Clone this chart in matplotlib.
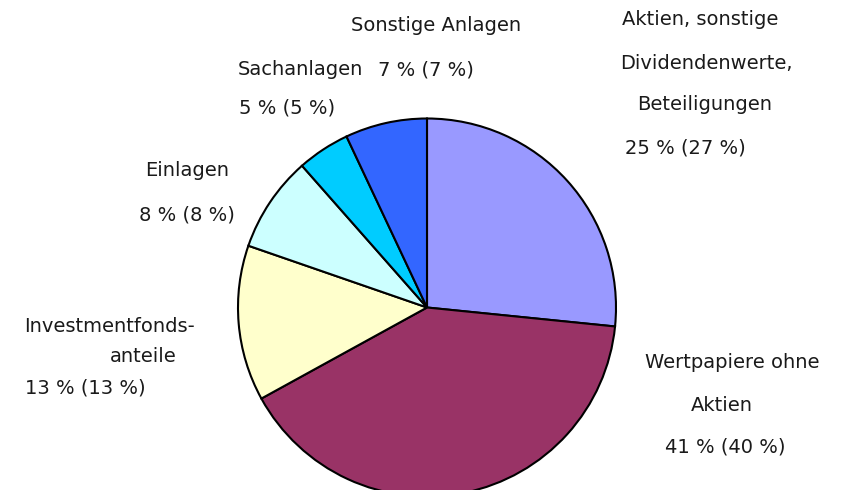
import matplotlib
matplotlib.use("Agg")
import matplotlib.pyplot as plt

categories = ["Aktien, sonstige Dividendenwerte, Beteiligungen",
              "Wertpapiere ohne Aktien",
              "Investmentfonds-anteile",
              "Einlagen",
              "Sachanlagen",
              "Sonstige Anlagen"]
values = [26.6, 40.4, 13.3, 8.2, 4.5, 7.0]
label_lines = [
    ["Aktien, sonstige", "Dividendenwerte,", "Beteiligungen", "25 % (27 %)"],
    ["Wertpapiere ohne", "Aktien", "41 % (40 %)"],
    ["Investmentfonds-", "anteile", "13 % (13 %)"],
    ["Einlagen", "8 % (8 %)"],
    ["Sachanlagen", "5 % (5 %)"],
    ["Sonstige Anlagen", "7 % (7 %)"],
]
colors = ["#9999FF", "#993366", "#FFFFCC", "#CCFFFF", "#00CCFF", "#3366FF"]

# layout (pixel positions of each text line, top-down y)
line_pos = [
    [(700, 20), (706, 64), (705, 105), (685, 148)],
    [(732, 362), (722, 405), (725, 447)],
    [(110, 327), (143, 357), (85, 388)],
    [(187, 170), (187, 215)],
    [(300, 70), (287, 108)],
    [(436, 26), (426, 70)],
]

W, H = 841, 490
fig = plt.figure(figsize=(W / 100, H / 100), dpi=100)
ax = fig.add_axes([0, 0, 1, 1])
ax.pie(values, colors=colors, startangle=90, counterclock=False,
       center=(427, H - 307.5), radius=189,
       wedgeprops=dict(edgecolor="black", linewidth=1.5))
ax.set_xlim(0, W)
ax.set_ylim(0, H)
ax.set_aspect("equal")
ax.axis("off")

for lines, poss in zip(label_lines, line_pos):
    for txt, (x, y) in zip(lines, poss):
        ax.text(x, H - y, txt, ha="center", va="center", fontsize=14,
                family="DejaVu Sans", color="#1a1a1a")

fig.savefig("out.png", dpi=100)
